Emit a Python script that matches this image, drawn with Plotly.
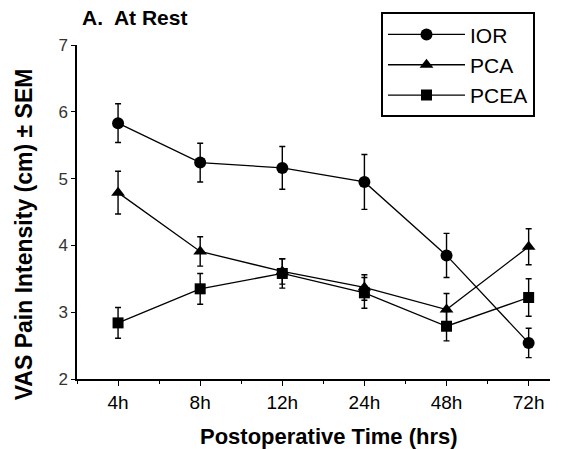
import plotly.graph_objects as go

# Postoperative time points
categories = ["4h", "8h", "12h", "24h", "48h", "72h"]

# Mean VAS pain intensity at rest (cm) and SEM for each group
ior_mean = [5.83, 5.24, 5.16, 4.95, 3.85, 2.54]
ior_sem = [0.29, 0.29, 0.32, 0.41, 0.33, 0.22]

pca_mean = [4.79, 3.91, 3.61, 3.37, 3.04, 3.98]
pca_sem = [0.32, 0.22, 0.19, 0.19, 0.24, 0.27]

pcea_mean = [2.84, 3.35, 3.58, 3.29, 2.79, 3.22]
pcea_sem = [0.23, 0.23, 0.22, 0.23, 0.22, 0.28]

x_pos = list(range(len(categories)))

FONT = "Liberation Sans, Arial, Helvetica, sans-serif"

# Plot-area geometry in pixels, used to place the free-standing titles
FIG_W, FIG_H = 567, 449
M_L, M_R, M_T, M_B = 77, 17, 42, 70
PLOT_W = FIG_W - M_L - M_R
PLOT_H = FIG_H - M_T - M_B

series = [
    ("IOR", ior_mean, ior_sem, "circle", 12),
    ("PCA", pca_mean, pca_sem, "triangle-up", 12),
    ("PCEA", pcea_mean, pcea_sem, "square", 11),
]

fig = go.Figure()
for name, mean, sem, symbol, size in series:
    fig.add_trace(go.Scatter(
        x=x_pos,
        y=mean,
        name=name,
        legendgroup=name,
        mode="lines+markers",
        line=dict(color="black", width=1.3),
        marker=dict(symbol=symbol, size=size, color="black",
                    line=dict(width=0)),
        error_y=dict(type="data", array=sem, visible=True,
                     color="black", thickness=1.4, width=3),
    ))

fig.update_layout(
    width=FIG_W,
    height=FIG_H,
    margin=dict(l=M_L, r=M_R, t=M_T, b=M_B),
    paper_bgcolor="white",
    plot_bgcolor="white",
    font=dict(family=FONT, color="black"),
    title=dict(
        text="A.  At Rest",
        font=dict(family=FONT, size=21, weight="bold", color="black"),
        xref="container", yref="container",
        x=82 / FIG_W, xanchor="left",
        y=1 - 18 / FIG_H, yanchor="middle",
    ),
    showlegend=True,
    legend=dict(
        x=(381 - M_L) / PLOT_W, xanchor="left",
        y=(FIG_H - M_B - 9) / PLOT_H, yanchor="top",
        bgcolor="white",
        bordercolor="black",
        borderwidth=2,
        font=dict(family=FONT, size=21, color="black"),
        tracegroupgap=14,
        itemwidth=77,
        traceorder="normal",
    ),
    annotations=[
        dict(
            text="VAS Pain Intensity (cm) ± SEM",
            xref="paper", yref="paper",
            x=(24 - M_L) / PLOT_W, y=(FIG_H - M_B - 233) / PLOT_H,
            xanchor="center", yanchor="middle",
            textangle=-90,
            showarrow=False,
            font=dict(family=FONT, size=23, weight="bold", color="black"),
        ),
        dict(
            text="Postoperative Time (hrs)",
            xref="paper", yref="paper",
            x=(329 - M_L) / PLOT_W, y=(FIG_H - M_B - 437) / PLOT_H,
            xanchor="center", yanchor="middle",
            showarrow=False,
            font=dict(family=FONT, size=22, weight="bold", color="black"),
        ),
    ],
)

fig.update_xaxes(
    range=[-0.5, 5.26],
    tickmode="array",
    tickvals=x_pos,
    ticktext=categories,
    ticks="outside",
    ticklen=5,
    tickwidth=1.2,
    tickcolor="black",
    tickfont=dict(family=FONT, size=19, color="black"),
    showline=True,
    linecolor="black",
    linewidth=1.5,
    showgrid=False,
    zeroline=False,
    automargin=False,
    minor=dict(ticks="outside", ticklen=3, tickwidth=1, tickcolor="black",
               tick0=0.5, dtick=1, showgrid=False),
)

fig.update_yaxes(
    range=[2, 7],
    tickmode="linear",
    tick0=2,
    dtick=1,
    ticks="outside",
    ticklen=4,
    tickwidth=1.2,
    tickcolor="black",
    tickfont=dict(family=FONT, size=17, color="#333333"),
    showline=True,
    linecolor="black",
    linewidth=1.5,
    showgrid=False,
    zeroline=False,
    automargin=False,
)

fig.write_html("out.html")
